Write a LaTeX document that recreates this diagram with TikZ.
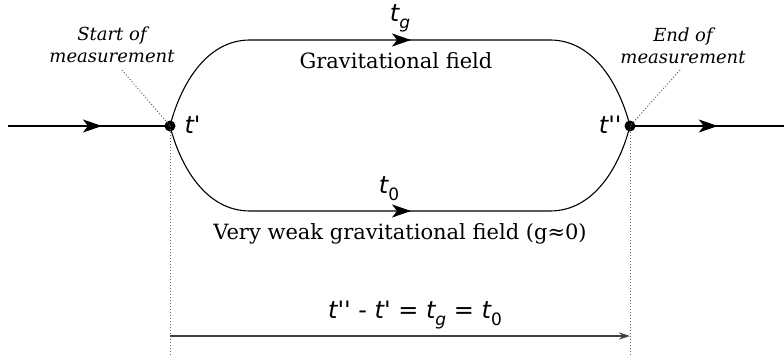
\documentclass[tikz,border=0pt]{standalone}
\usepackage{fontspec}
\setmainfont{DejaVu Serif}
\newfontfamily\tfont{DejaVu Sans}[Ligatures=TeXOff]
\usetikzlibrary{arrows.meta,decorations.markings}

\newcommand{\tsub}[1]{\raisebox{-0.3em}{\fontsize{17}{17}\selectfont #1}}

\begin{document}
\begin{tikzpicture}[x=1pt, y=-1pt, line width=1.1pt,
  dot/.style={circle, fill=black, inner sep=0pt, minimum size=11pt},
  flow/.style={postaction={decorate}, decoration={markings,
      mark=at position #1 with {\arrow{Stealth[length=19pt, width=13pt, inset=5pt]}}}},
  guide/.style={black!60, line width=1pt, dash pattern=on 1pt off 2pt},
  tlbl/.style={font=\tfont\itshape\fontsize{24}{28}\selectfont, inner sep=0pt},
  note/.style={font=\itshape\fontsize{18}{22}\selectfont, align=center, inner sep=0pt},
  field/.style={font=\fontsize{21}{24}\selectfont, inner sep=0pt}]
  \useasboundingbox (0,0) rectangle (784,356);
  % measurement points
  \node[dot] (tin) at (170,126) {};
  \node[dot] (tout) at (630,126) {};
  \coordinate (west) at (8,126);
  \coordinate (east) at (784,126);
  \coordinate (inbase) at (170,356);
  \coordinate (outbase) at (630,356);
  \coordinate (startfoot) at (122,70);
  \coordinate (endfoot) at (680,70);
  \coordinate (spanl) at (170,336);
  \coordinate (spanr) at (630,336);
  % incoming and outgoing line
  \draw[flow=0.58] (west) -- (tin.center);
  \draw[flow=0.57] (tout.center) -- (east);
  % the two paths
  \draw[flow=0.52] (tin.center) .. controls (180,87) and (205,40) .. (250,40) -- (550,40)
    .. controls (595,40) and (620,87) .. (tout.center);
  \draw[flow=0.52] (tin.center) .. controls (180,165) and (205,211) .. (250,211) -- (550,211)
    .. controls (595,211) and (620,165) .. (tout.center);
  \node[tlbl] (tg) at (400,18) {t\tsub{g}};
  \node[field] (grav) at (396,61) {Gravitational field};
  \node[tlbl] (t0) at (389,189) {t\tsub{\upshape 0}};
  \node[field] (weak) at (400,234) {Very weak gravitational field (g≈0)};
  % labels at the points
  \node[tlbl, anchor=west] (tinlbl) at (184,125) {t'};
  \node[tlbl, anchor=east] (toutlbl) at (622,125) {t''};
  \node[note] (start) at (112,45) {Start of\\measurement};
  \node[note] (stop) at (683,46) {End of\\measurement};
  \draw[guide] (startfoot) -- (tin.center);
  \draw[guide] (endfoot) -- (tout.center);
  % time span
  \draw[guide] (tin.center) -- (inbase);
  \draw[guide] (tout.center) -- (outbase);
  \draw[black!75, line width=1.3pt, -{Stealth[length=11pt, width=7pt]}] (spanl) -- (spanr);
  \node[tlbl, font=\tfont\fontsize{24}{28}\selectfont] (span) at (415,315)
    {\itshape t''\upshape{} - \itshape t'\upshape{} = \itshape t\tsub{g}\upshape{} = \itshape t\tsub{\upshape 0}};
\end{tikzpicture}
\end{document}
